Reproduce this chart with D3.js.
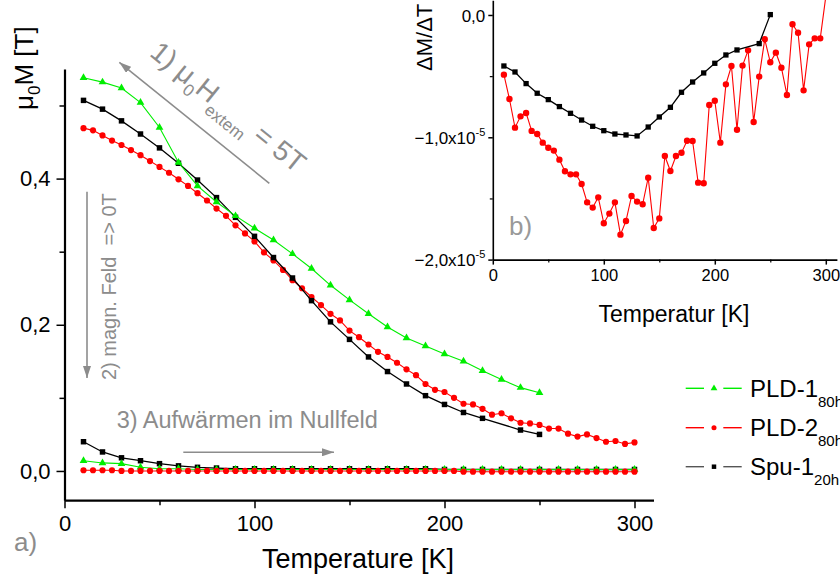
<!DOCTYPE html>
<html>
<head>
<meta charset="utf-8">
<script src="https://cdn.jsdelivr.net/npm/d3@7"></script>
<style>
  body { margin: 0; background: #fff; }
  svg { display: block; }
  text { font-family: "Liberation Sans", Arial, sans-serif; }
</style>
</head>
<body>
<svg id="chart" width="840" height="577"></svg>
<script>
// ---------- Main panel a): mu0*M [T] vs temperature ----------
// Field-cooled curves (in 5 T)
const tPld1FC = [10,20,30,40,50,60,70,80,90,100,110,120,130,140,150,160,170,180,190,200,210,220,230,240,250];
const pld1FC  = [0.538,0.532,0.524,0.504,0.470,0.422,0.390,0.368,0.349,0.332,0.316,0.297,0.277,0.254,0.234,0.215,0.197,0.182,0.171,0.160,0.150,0.137,0.125,0.114,0.107];

const tSpu1FC = [10,20,30,40,50,60,70,80,90,100,110,120,130,140,150,160,170,180,190,200,210,220,240,250];
const spu1FC  = [0.507,0.495,0.479,0.461,0.442,0.421,0.398,0.374,0.347,0.321,0.292,0.264,0.233,0.204,0.180,0.156,0.136,0.119,0.103,0.091,0.080,0.072,0.056,0.050];

const tPld2FC = [10,15,20,25,30,35,40,45,50,55,60,65,70,75,80,85,90,95,100,105,110,115,120,125,130,135,140,145,150,155,160,165,170,175,180,185,190,195,200,205,210,215,220,225,230,235,240,245,250,255,260,265,270,275,280,285,290,295,300];
const pld2FC  = [0.469,0.466,0.459,0.452,0.446,0.439,0.432,0.424,0.416,0.408,0.399,0.390,0.380,0.370,0.359,0.349,0.336,0.325,0.314,0.299,0.288,0.275,0.261,0.250,0.238,0.227,0.215,0.206,0.192,0.183,0.173,0.163,0.156,0.148,0.139,0.131,0.119,0.111,0.108,0.100,0.092,0.091,0.085,0.077,0.079,0.072,0.066,0.065,0.063,0.058,0.058,0.051,0.047,0.050,0.045,0.040,0.041,0.037,0.039];

// Warming in zero field
const tZF10   = [10,20,30,40,50,60,70,80,90,100,110,120,130,140,150,160,170,180,190,200,210,220,230,240,250,260,270,280,290,300];
const pld1ZF  = [0.014,0.011,0.010,0.005,0.003,0.003,0.002,0.002,0.002,0.002,0.002,0.002,0.002,0.002,0.002,0.002,0.002,0.002,0.002,0.002,0.002,0.002,0.002,0.002,0.002,0.002,0.002,0.002,0.002,0.002];
const spu1ZF  = [0.040,0.026,0.018,0.014,0.010,0.007,0.005,0.004,0.003,0.003,0.003,0.003,0.003,0.003,0.003,0.003,0.003,0.003,0.003,0.002,0.002,0.002,0.002,0.002,0.002,0.002,0.002,0.002,0.002,0.002];
const tZF5    = tPld2FC;
const pld2ZF  = [0.001,0.001,0.001,0.001,0.000,0.000,0.000,0.000,0.000,0.000,0.000,0.000,0.000,0.000,0.000,0.000,0.000,0.000,0.000,0.000,0.000,0.000,0.000,0.000,0.000,0.000,0.000,0.000,0.000,0.000,0.000,0.000,0.000,0.000,0.000,0.000,0.000,0.000,0.000,0.000,-0.001,-0.001,-0.001,-0.001,-0.001,-0.001,-0.001,-0.001,-0.001,-0.001,-0.001,-0.001,-0.001,-0.001,-0.001,-0.001,-0.001,-0.001,-0.001];

const xTicks = [0, 100, 200, 300];
const xMinor = [50, 150, 250];
const yTicks = [0.0, 0.2, 0.4];
const yMinor = [0.1, 0.3, 0.5];

// ---------- Inset b): dM/dT (units of 1e-5 T/K) ----------
const tSpu1D = [10,20,30,40,50,60,70,80,90,100,110,120,130,140,150,160,170,180,190,200,210,220,240,250];
const spu1D  = [-0.417,-0.466,-0.561,-0.640,-0.692,-0.749,-0.804,-0.859,-0.910,-0.946,-0.973,-0.981,-0.989,-0.916,-0.834,-0.755,-0.632,-0.548,-0.474,-0.395,-0.327,-0.286,-0.234,0.003];
const tPld2D = tPld2FC;
const pld2D  = [-0.488,-0.687,-0.921,-0.829,-0.801,-0.948,-0.973,-1.044,-1.085,-1.109,-1.183,-1.278,-1.303,-1.303,-1.382,-1.532,-1.575,-1.491,-1.703,-1.624,-1.532,-1.796,-1.684,-1.480,-1.526,-1.548,-1.330,-1.742,-1.663,-1.153,-1.276,-1.153,-1.126,-1.028,-1.030,-1.371,-1.376,-0.736,-0.701,-1.044,-0.567,-0.417,-0.938,-0.414,-0.289,-0.875,-0.504,-0.199,-0.387,-0.308,-0.431,-0.654,-0.076,-0.145,-0.616,-0.240,-0.191,-0.191,0.150];

const ixTicks = [0, 100, 200, 300];
const ixMinor = [50, 150, 250];
const iyTicks = [0, -1, -2];
const iyMinor = [-0.5, -1.5];

// Legend
const legendNames = ["PLD-1", "PLD-2", "Spu-1"];
const legendSubs  = ["80h", "80h", "20h"];

const GREEN = "#00ee00", RED = "#ff0000", BLACK = "#000000", GREY = "#8c8c8c";

const svg = d3.select("#chart");

// defs: arrowhead for annotations
svg.append("defs").append("marker")
  .attr("id", "arrow").attr("markerUnits", "userSpaceOnUse")
  .attr("markerWidth", 13).attr("markerHeight", 8)
  .attr("refX", 12).attr("refY", 4).attr("orient", "auto")
  .append("path").attr("d", "M0,0 L12,4 L0,8 Z").attr("fill", GREY);

// ---------- scales ----------
const x = d3.scaleLinear().domain([0, 310]).range([64.5, 653.5]);
const y = d3.scaleLinear().domain([-0.04, 0.55]).range([500.2, 68.95]);
const xi = d3.scaleLinear().domain([0, 310]).range([492.8, 836.9]);
const yi = d3.scaleLinear().domain([-2, 0.12]).range([259.6, 0.3]);

const comma1 = d => d3.format(".1f")(d).replace(".", ",");

function styleAxis(g, fontSize, lineW) {
  g.select(".domain").attr("stroke-width", lineW).attr("stroke", "#000");
  g.selectAll(".tick line").attr("stroke-width", 1.5).attr("stroke", "#000");
  g.selectAll(".tick text").attr("font-size", fontSize).attr("fill", "#000")
    .attr("font-family", '"Liberation Sans", Arial, sans-serif');
}

// ---------- main axes ----------
const gx = svg.append("g").attr("transform", `translate(0,${y(-0.04)})`)
  .call(d3.axisBottom(x).tickValues(xTicks).tickFormat(d3.format("d")).tickSize(8).tickSizeOuter(0).tickPadding(7));
styleAxis(gx, 22, 2.2);
const gxm = svg.append("g").attr("transform", `translate(0,${y(-0.04)})`)
  .call(d3.axisBottom(x).tickValues(xMinor).tickFormat("").tickSize(5).tickSizeOuter(0));
gxm.select(".domain").remove();
gxm.selectAll(".tick line").attr("stroke-width", 1.5);

const gy = svg.append("g").attr("transform", `translate(${x(0)},0)`)
  .call(d3.axisLeft(y).tickValues(yTicks).tickFormat(comma1).tickSize(8).tickSizeOuter(0).tickPadding(6));
styleAxis(gy, 22, 2.2);
const gym = svg.append("g").attr("transform", `translate(${x(0)},0)`)
  .call(d3.axisLeft(y).tickValues(yMinor).tickFormat("").tickSize(5).tickSizeOuter(0));
gym.select(".domain").remove();
gym.selectAll(".tick line").attr("stroke-width", 1.5);

// axis titles
svg.append("text").attr("x", 358).attr("y", 568).attr("text-anchor", "middle")
  .attr("font-size", 27).text("Temperature [K]");
const yt = svg.append("text").attr("transform", "translate(33,110) rotate(-90)")
  .attr("font-size", 26);
yt.append("tspan").text("\u03BC");
yt.append("tspan").attr("font-size", 17).attr("dy", 7).text("0");
yt.append("tspan").attr("dy", -7).text("M [T]");

// ---------- series drawing helper ----------
function drawSeries(g, xs, ys, ts, vs, color, shape, size, lw) {
  const pts = ts.map((t, i) => [t, vs[i]]);
  g.append("path").datum(pts)
    .attr("fill", "none").attr("stroke", color).attr("stroke-width", lw)
    .attr("d", d3.line().x(d => xs(d[0])).y(d => ys(d[1])));
  const sym = d3.symbol().type(shape).size(size);
  g.selectAll(null).data(pts).enter().append("path")
    .attr("d", sym).attr("fill", color)
    .attr("transform", d => `translate(${xs(d[0])},${ys(d[1])})`);
}

const gMain = svg.append("g");
// zero-field warming
drawSeries(gMain, x, y, tZF10, spu1ZF, BLACK, d3.symbolSquare, 30, 1.3);
drawSeries(gMain, x, y, tZF10, pld1ZF, GREEN, d3.symbolTriangle, 26, 1.1);
drawSeries(gMain, x, y, tZF5, pld2ZF, RED, d3.symbolCircle, 30, 1.1);
// field cooled
drawSeries(gMain, x, y, tPld2FC, pld2FC, RED, d3.symbolCircle, 30, 1.1);
drawSeries(gMain, x, y, tSpu1FC, spu1FC, BLACK, d3.symbolSquare, 30, 1.3);
drawSeries(gMain, x, y, tPld1FC, pld1FC, GREEN, d3.symbolTriangle, 26, 1.1);

// ---------- annotations ----------
const ann = svg.append("g").attr("fill", GREY);
// 1) field applied
ann.append("line").attr("x1", 269.3).attr("y1", 183.3).attr("x2", 119.3).attr("y2", 62.3)
  .attr("stroke", GREY).attr("stroke-width", 1.6).attr("marker-end", "url(#arrow)");
const t1 = ann.append("text").attr("transform", "translate(148.4,54.9) rotate(38.9)")
  .attr("font-size", 28);
t1.append("tspan").text("1) \u03BC");
t1.append("tspan").attr("font-size", 17).attr("dy", 8).text("0");
t1.append("tspan").attr("dy", -8).text("H");
t1.append("tspan").attr("font-size", 17).attr("dy", 10).text("extem");
t1.append("tspan").attr("dy", -10).attr("dx", 8).text("= 5T");

// 2) field switched off
ann.append("line").attr("x1", 87).attr("y1", 191.7).attr("x2", 87).attr("y2", 378)
  .attr("stroke", GREY).attr("stroke-width", 1.6).attr("marker-end", "url(#arrow)");
ann.append("text").attr("transform", "translate(116,380) rotate(-90)")
  .attr("font-size", 20).text("2) magn. Feld \u00A0=> 0T");

// 3) warming in zero field
ann.append("text").attr("x", 116.7).attr("y", 428.3).attr("font-size", 23.5)
  .text("3) Aufwärmen im Nullfeld");
ann.append("line").attr("x1", 183.3).attr("y1", 452.3).attr("x2", 334).attr("y2", 452.3)
  .attr("stroke", GREY).attr("stroke-width", 1.6).attr("marker-end", "url(#arrow)");

ann.append("text").attr("x", 14).attr("y", 551).attr("font-size", 26).text("a)");

// ---------- inset ----------
const gix = svg.append("g").attr("transform", `translate(0,${yi(-2)})`)
  .call(d3.axisBottom(xi).tickValues(ixTicks).tickFormat(d3.format("d")).tickSize(5).tickSizeOuter(0).tickPadding(5));
styleAxis(gix, 16.5, 1.6);
const gixm = svg.append("g").attr("transform", `translate(0,${yi(-2)})`)
  .call(d3.axisBottom(xi).tickValues(ixMinor).tickFormat("").tickSize(3).tickSizeOuter(0));
gixm.select(".domain").remove();
gixm.selectAll(".tick line").attr("stroke-width", 1.2);

const giy = svg.append("g").attr("transform", `translate(${xi(0)},0)`)
  .call(d3.axisLeft(yi).tickValues(iyTicks).tickFormat("").tickSize(4.5).tickSizeOuter(0).tickPadding(3));
styleAxis(giy, 17, 1.6);
const giym = svg.append("g").attr("transform", `translate(${xi(0)},0)`)
  .call(d3.axisLeft(yi).tickValues(iyMinor).tickFormat("").tickSize(3).tickSizeOuter(0));
giym.select(".domain").remove();
giym.selectAll(".tick line").attr("stroke-width", 1.2);

// inset tick labels with scientific exponent
giy.selectAll(".tick text").each(function(d) {
  const t = d3.select(this);
  t.text(null).attr("x", -7.5).attr("dy", "0.36em");
  if (d === 0) {
    t.append("tspan").text(comma1(d));
  } else {
    t.append("tspan").text(comma1(d) + "x10");
    t.append("tspan").attr("font-size", 11).attr("dy", -8).text("-5");
  }
});

svg.append("text").attr("x", 674).attr("y", 321.7).attr("text-anchor", "middle")
  .attr("font-size", 23).text("Temperatur [K]");
svg.append("text").attr("transform", "translate(432,71) rotate(-90)")
  .attr("font-size", 22).text("\u0394M/\u0394T");
svg.append("text").attr("x", 509).attr("y", 235).attr("font-size", 26).attr("fill", "#999").text("b)");

const gIn = svg.append("g");
drawSeries(gIn, xi, yi, tPld2D, pld2D, RED, d3.symbolCircle, 32, 1.1);
drawSeries(gIn, xi, yi, tSpu1D, spu1D, BLACK, d3.symbolSquare, 28, 1.3);

// ---------- legend ----------
const legColors = [GREEN, RED, "#555555"];
const legSym = [d3.symbolTriangle, d3.symbolCircle, d3.symbolSquare];
const legSymColor = [GREEN, RED, BLACK];
const legRows = [388.3, 427.7, 466.7];
const gLeg = svg.append("g");
legendNames.forEach((name, i) => {
  const yy = legRows[i];
  gLeg.append("line").attr("x1", 685.7).attr("x2", 704).attr("y1", yy).attr("y2", yy)
    .attr("stroke", legColors[i]).attr("stroke-width", 1.4);
  gLeg.append("line").attr("x1", 723.3).attr("x2", 741.7).attr("y1", yy).attr("y2", yy)
    .attr("stroke", legColors[i]).attr("stroke-width", 1.4);
  gLeg.append("path").attr("d", d3.symbol().type(legSym[i]).size(20))
    .attr("fill", legSymColor[i]).attr("transform", `translate(714,${yy})`);
  const t = gLeg.append("text").attr("x", 750).attr("y", yy + 8.5).attr("font-size", 24);
  t.append("tspan").text(name);
  t.append("tspan").attr("font-size", 15).attr("dy", 10).text(legendSubs[i]);
});
</script>
</body>
</html>
